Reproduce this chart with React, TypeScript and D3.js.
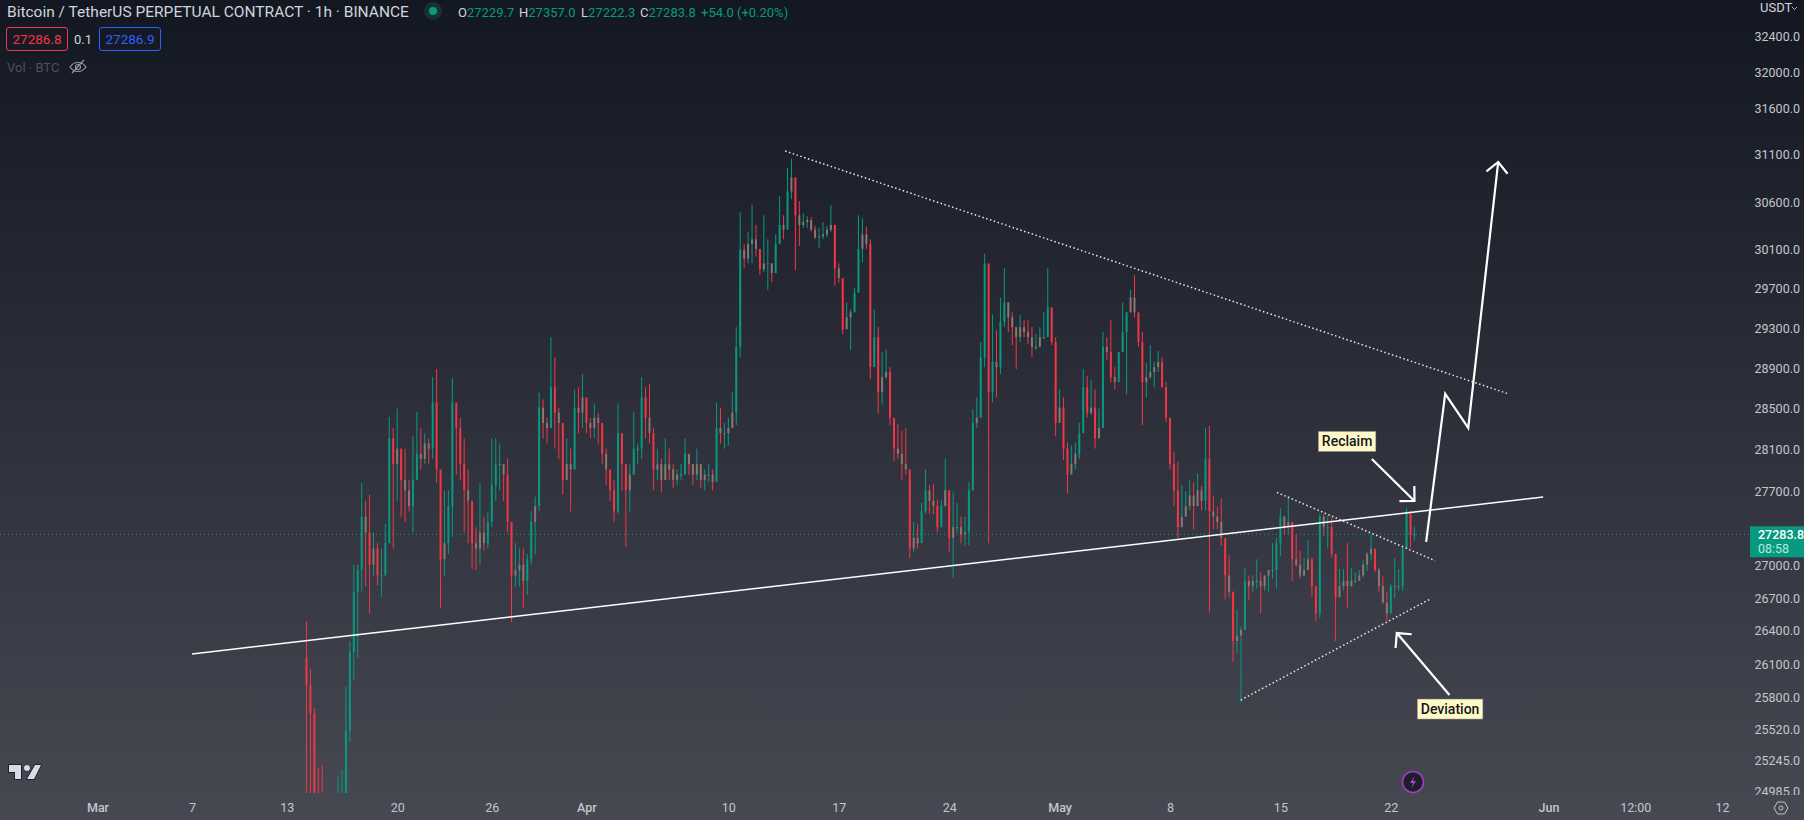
import React, { useEffect, useRef } from 'react';
import * as d3 from 'd3';

// 6h candles, open = previous close
const firstOpen = 26150;
const candleStart = Date.UTC(2023, 2, 14, 6);
const stepMs = 6 * 3600 * 1000;

const closes = [
  25900, 25650, 24900, 24800, 24700, 24600, 24500, 24600, 24800, 24900, 25500, 26200, 26750, 26950, 27450, 27300,
  27000, 27150, 26900, 26900, 27200, 28200, 27950, 28100, 27800, 27700, 27550, 27800, 28050, 28000, 28150, 28100,
  28550, 27900, 27050, 27200, 27550, 28550, 28300, 27950, 27700, 27600, 27200, 27150, 27300, 27200, 27400, 27750,
  27950, 27950, 27850, 27400, 26900, 26950, 27000, 26850, 27050, 27400, 27550, 28500, 28350, 28300, 28700, 28450,
  28350, 27800, 27950, 27900, 28500, 28450, 28600, 28350, 28300, 28400, 28350, 28050, 27900, 27700, 27500, 28250,
  27950, 27700, 27850, 28100, 28100, 28600, 28400, 28250, 27900, 27950, 27800, 27950, 27900, 27800, 27850, 27850,
  28050, 27950, 27850, 27950, 27800, 27850, 27850, 27780, 28300, 28250, 28250, 28300, 28450, 29100, 30090, 30000,
  30150, 30200, 30100, 29890, 29950, 29950, 29850, 30150, 30350, 30300, 30700, 30850, 30450, 30350, 30380, 30400,
  30300, 30220, 30230, 30250, 30300, 30350, 29900, 29800, 29280, 29400, 29450, 29650, 30100, 30250, 30150, 28900,
  29200, 28650, 28800, 28850, 28400, 28100, 28050, 27950, 27900, 27150, 27250, 27200, 27500, 27700, 27600, 27550,
  27350, 27550, 27700, 27250, 27350, 27350, 27280, 27300, 27700, 28350, 28400, 29000, 29950, 28650, 28950, 28900,
  29350, 29550, 29400, 29300, 29200, 29300, 29250, 29200, 29100, 29100, 29200, 29200, 29500, 29150, 28350, 28500,
  28100, 27850, 27950, 28050, 28250, 28700, 28450, 28500, 28200, 28300, 29100, 29050, 28800, 28750, 29050, 29250,
  29450, 29600, 29450, 29150, 28750, 28800, 28850, 28900, 28950, 28700, 28400, 27950, 27700, 27350, 27450, 27550,
  27650, 27550, 27700, 27600, 28000, 27500, 27450, 27400, 27250, 26900, 26750, 26300, 26350, 26400, 26850, 26800,
  26850, 26850, 26800, 26900, 26950, 26950, 27200, 27450, 27350, 27400, 27050, 27000, 26900, 26950, 27050, 26800,
  26550, 27450, 27350, 27350, 27100, 26700, 26800, 26850, 26800, 26850, 26850, 26900, 27000, 27100, 27150, 26950,
  26800, 26650, 26550, 26800, 26800, 26800, 27150, 27500, 27280, 27283.8,
];
const highs = [
  26480, 26050, 25700, 25180, 25200, 24900, 24800, 24950, 25100, 25160, 25890, 26300, 27000, 27000, 27770, 27600,
  27660, 27300, 27200, 27150, 27380, 28410, 28300, 28490, 28000, 28100, 27800, 28220, 28460, 28300, 28250, 28200,
  28800, 28880, 27480, 27700, 27700, 28790, 28500, 28400, 28200, 27900, 27500, 27350, 27770, 27450, 27500, 28200,
  28200, 28150, 27950, 28000, 27400, 27200, 27150, 27150, 27100, 27500, 27640, 28650, 28580, 28400, 29200, 29000,
  28500, 28300, 28200, 28100, 28680, 28700, 28830, 28500, 28400, 28540, 28450, 28300, 28100, 27850, 27800, 28540,
  28200, 27950, 27950, 28460, 28150, 28800, 28700, 28730, 28300, 28100, 28000, 28200, 28100, 27950, 27900, 27950,
  28200, 28000, 27950, 28100, 27950, 27900, 27950, 27900, 28550, 28500, 28350, 28400, 28650, 29300, 30480, 30150,
  30280, 30560, 30350, 30050, 30450, 30200, 29950, 30250, 30650, 30450, 30950, 31050, 30850, 30600, 30470, 30440,
  30430, 30340, 30320, 30380, 30340, 30560, 30330, 29950, 29780, 29550, 29480, 29700, 30450, 30420, 30330, 30200,
  29480, 29300, 29050, 29080, 28900, 28370, 28340, 28270, 28300, 27800, 27400, 27380, 27580, 27900, 27750, 27760,
  27610, 27610, 28000, 27580, 27680, 27580, 27450, 27450, 27780, 28480, 28600, 29150, 30050, 29450, 29430, 29270,
  29600, 29900, 29550, 29450, 29300, 29420, 29370, 29370, 29300, 29230, 29300, 29450, 29900, 29460, 29200, 28680,
  28600, 28160, 28130, 28160, 28350, 28880, 28810, 28770, 28680, 28490, 29250, 29200, 29370, 28900, 29050, 29550,
  29450, 29680, 29830, 29400, 29250, 28940, 29120, 28950, 29060, 29000, 28750, 28280, 28070, 27970, 27750, 27690,
  27800, 27780, 27860, 27740, 28300, 28320, 27650, 27540, 27620, 27200, 27090, 26670, 26580, 26430, 26970, 26900,
  26900, 27050, 26930, 26900, 26950, 27200, 27250, 27530, 27460, 27650, 27330, 27280, 27130, 27070, 27230, 27070,
  26800, 27480, 27480, 27460, 27440, 27070, 26960, 26960, 27200, 26970, 26930, 26950, 27040, 27120, 27280, 27110,
  26970, 26890, 26750, 26820, 27060, 26960, 27180, 27530, 27400, 27357,
];
const lows = [
  24500, 24700, 24500, 24350, 24300, 24300, 24200, 24300, 24400, 24500, 24600, 25400, 25950, 26150, 26750, 26800,
  26550, 26900, 26810, 26700, 26900, 27740, 27150, 27600, 27450, 27400, 27500, 27300, 27800, 27900, 27950, 27950,
  28000, 27770, 26600, 26900, 27100, 27260, 27850, 27800, 27300, 27200, 26960, 26950, 27000, 27130, 27150, 27350,
  27600, 27700, 27600, 27300, 26470, 26800, 26800, 26600, 26720, 27000, 27100, 27500, 28200, 28150, 28350, 28100,
  28000, 27660, 27800, 27500, 27900, 28250, 28300, 28250, 28200, 28200, 28150, 27950, 27750, 27600, 27400, 27480,
  27700, 27170, 27500, 27850, 27950, 28000, 28200, 28150, 27700, 27800, 27680, 27800, 27800, 27720, 27750, 27800,
  27850, 27850, 27750, 27800, 27720, 27700, 27780, 27700, 27780, 28150, 28100, 28130, 28330, 28330, 29000, 29900,
  29950, 29950, 30020, 29830, 29860, 29680, 29760, 30000, 30200, 30200, 30550, 30620, 29880, 30130, 30320, 30320,
  30280, 30200, 30110, 30200, 30220, 30280, 29720, 29750, 29230, 29280, 29070, 29480, 29750, 29960, 30100, 28780,
  29050, 28440, 28530, 28780, 28330, 27980, 28000, 27800, 27850, 27060, 27120, 27150, 27230, 27480, 27480, 27470,
  27300, 27400, 27550, 27120, 26880, 27300, 27200, 27180, 27180, 27750, 28300, 28520, 28900, 27200, 28550, 28600,
  28830, 29300, 29250, 29120, 28880, 29150, 29200, 29130, 29000, 29070, 29130, 29180, 29450, 29120, 28220, 28400,
  27990, 27670, 27900, 27900, 28000, 28450, 28400, 28430, 28100, 28220, 28900, 28970, 28750, 28680, 28800, 29100,
  28630, 29450, 29400, 29100, 28330, 28600, 28780, 28700, 28850, 28700, 28360, 27900, 27550, 27250, 27450, 27500,
  27510, 27330, 27590, 27510, 27510, 26560, 27330, 27330, 27180, 26680, 26700, 26110, 26190, 25750, 26670, 26670,
  26740, 26780, 26550, 26760, 26750, 26870, 26780, 27080, 27280, 27280, 26850, 26980, 26870, 26890, 26950, 26700,
  26480, 26510, 27270, 27150, 27070, 26300, 26770, 26760, 26600, 26800, 26830, 26870, 26880, 26940, 27040, 26930,
  26750, 26640, 26480, 26580, 26690, 26760, 26760, 27150, 27160, 27222,
];

const priceTicks = [32400, 32000, 31600, 31100, 30600, 30100, 29700, 29300, 28900, 28500, 28100, 27700, 27000, 26700, 26400, 26100, 25800, 25520, 25245, 24985];
const lastPrice = 27283.8;

const timeLabels = ['Mar', '7', '13', '20', '26', 'Apr', '10', '17', '24', 'May', '8', '15', '22', 'Jun', '12:00', '12'];
const timeDays = [0, 6, 12, 19, 25, 31, 40, 47, 54, 61, 68, 75, 82, 92, 97.5, 103];
const boldLabels = ['Mar', 'Apr', 'May', 'Jun'];

// drawings: [days since Mar 1, price]
const mainLine = [[5.99, 26182], [91.66, 27636]];
const upperTrend = [[43.6, 31131], [89.44, 28636]];
const wedgeTop = [[74.78, 27680], [84.81, 27037]];
const wedgeBottom = [[72.49, 25771], [84.5, 26683]];
const projection = [[84.24, 27212], [85.45, 28635], [86.91, 28301], [88.81, 31014]];
const reclaimArrow = [[80.8, 28001], [83.5, 27599]];
const deviationArrow = [[85.72, 25816], [82.38, 26372]];
const notes = [
  { text: 'Reclaim', at: [79.23, 28170] },
  { text: 'Deviation', at: [85.76, 25691] },
];

const t0 = Date.UTC(2023, 2, 1);
const dayToDate = (d: number) => new Date(t0 + d * 864e5);

const width = 1804;
const height = 820;
const uiFont = 'Roboto, sans-serif';

export default function App() {
  const svgRef = useRef<SVGSVGElement>(null);

  useEffect(() => {
    if (!svgRef.current) return;
    const svg = d3.select(svgRef.current);
    svg.selectAll('*').remove();

    const x = d3.scaleUtc().domain([dayToDate(0), dayToDate(103)]).range([97.5, 1722]);
    const y = d3.scaleLog().domain([24985, 32400]).range([790, 35]);
    const pt = (p: number[]): [number, number] => [x(dayToDate(p[0])), y(p[1])];

    const defs = svg.append('defs');
    const grad = defs.append('linearGradient').attr('id', 'bg').attr('x1', 0).attr('x2', 0).attr('y1', 0).attr('y2', 1);
    grad.append('stop').attr('offset', '0%').attr('stop-color', '#131722');
    grad.append('stop').attr('offset', '100%').attr('stop-color', '#464852');
    defs.append('clipPath').attr('id', 'pane').append('rect').attr('width', 1750).attr('height', 793);
    defs.append('clipPath').attr('id', 'scale').append('rect').attr('width', width).attr('height', 795);

    svg.append('rect').attr('width', width).attr('height', height).attr('fill', 'url(#bg)');

    const teal = '#089981';
    const red = '#f23645';
    const mix = '#8a7871';

    const lastY = y(lastPrice);
    svg.append('line').attr('x1', 0).attr('x2', 1750).attr('y1', lastY).attr('y2', lastY)
      .attr('stroke', teal).attr('stroke-dasharray', '1,3');

    // candles
    const candles = closes.map((c, i) => ({
      t: new Date(candleStart + i * stepMs),
      o: i === 0 ? firstOpen : closes[i - 1],
      h: highs[i],
      l: lows[i],
      c,
    }));
    const bw = (x(new Date(candleStart + stepMs)) - x(new Date(candleStart))) * 0.5;
    const pane = svg.append('g').attr('clip-path', 'url(#pane)');
    const g = pane.selectAll('g').data(candles).join('g');
    g.append('line')
      .attr('x1', d => x(d.t)).attr('x2', d => x(d.t))
      .attr('y1', d => y(d.h)).attr('y2', d => y(d.l))
      .attr('stroke', d => (d.c >= d.o ? teal : red));
    g.append('rect')
      .attr('x', d => x(d.t) - bw / 2).attr('width', bw)
      .attr('y', d => y(Math.max(d.o, d.c)))
      .attr('height', d => Math.max(1, Math.abs(y(d.o) - y(d.c))))
      .attr('fill', d => (Math.abs(d.c - d.o) < 160 ? mix : d.c >= d.o ? teal : red));

    // trend lines
    const line = d3.line<number[]>().x(p => pt(p)[0]).y(p => pt(p)[1]);
    const draw = svg.append('g').attr('fill', 'none').attr('stroke', '#ffffff');
    draw.append('path').attr('d', line(mainLine)).attr('stroke-width', 1.5);
    [upperTrend, wedgeTop, wedgeBottom].forEach(t => {
      draw.append('path').attr('d', line(t)).attr('stroke-width', 1.5).attr('stroke-dasharray', '1.5,2.5').attr('stroke', '#e8e8ee');
    });

    const withHead = (pts: number[][], size: number) => {
      draw.append('path').attr('d', line(pts)).attr('stroke-width', 2.2).attr('stroke-linejoin', 'miter');
      const [ax, ay] = pt(pts[pts.length - 2]);
      const [bx, by] = pt(pts[pts.length - 1]);
      const ang = Math.atan2(by - ay, bx - ax);
      const barb = (da: number) => [bx - size * Math.cos(ang + da), by - size * Math.sin(ang + da)];
      const b1 = barb(Math.PI / 4);
      const b2 = barb(-Math.PI / 4);
      draw.append('path').attr('d', `M${b1[0]},${b1[1]}L${bx},${by}L${b2[0]},${b2[1]}`).attr('stroke-width', 2.2);
    };
    withHead(projection, 15);
    withHead(reclaimArrow, 15);
    withHead(deviationArrow, 15);

    // text notes
    notes.forEach(n => {
      const [nx, ny] = pt(n.at);
      const label = svg.append('g');
      const txt = label.append('text').attr('x', nx).attr('y', ny).attr('dy', '0.35em').attr('text-anchor', 'middle')
        .attr('fill', '#131722').attr('font-family', uiFont).attr('font-size', 14).attr('font-weight', 500)
        .text(n.text);
      const box = (txt.node() as SVGTextElement).getBBox();
      label.insert('rect', 'text').attr('x', box.x - 3.5).attr('y', ny - 10).attr('width', box.width + 7).attr('height', 20)
        .attr('fill', '#fff9c8').attr('stroke', '#8d8c78').attr('stroke-width', 0.5);
    });

    // price scale
    const axisY = svg.append('g').attr('clip-path', 'url(#scale)').append('g').attr('transform', 'translate(1800,1)')
      .call(d3.axisRight(y).tickValues(priceTicks).tickFormat(d => (+d).toFixed(1)).tickSize(0).tickPadding(0) as any);
    axisY.select('.domain').remove();
    axisY.selectAll('text').attr('text-anchor', 'end').attr('fill', '#c4c6ce').attr('font-family', uiFont).attr('font-size', 12.5);

    svg.append('text').attr('x', 1760).attr('y', 12).attr('fill', '#d1d4dc').attr('font-family', uiFont).attr('font-size', 13).text('USDT');
    svg.append('path').attr('d', 'M1792,7l2.5,2.5l2.5,-2.5').attr('fill', 'none').attr('stroke', '#b2b5be');

    svg.append('rect').attr('x', 1750).attr('y', lastY - 8).attr('width', 54).attr('height', 31).attr('fill', teal);
    svg.append('text').attr('x', 1758).attr('y', lastY + 5).attr('fill', '#ffffff').attr('font-family', uiFont).attr('font-size', 12.5).attr('font-weight', 500).text(lastPrice.toFixed(1));
    svg.append('text').attr('x', 1758).attr('y', lastY + 19).attr('fill', '#b5ecdf').attr('font-family', uiFont).attr('font-size', 12.5).text('08:58');

    // time scale
    const axisX = svg.append('g').attr('transform', 'translate(0,803)')
      .call(d3.axisBottom(x).tickValues(timeDays.map(dayToDate)).tickFormat((_, i) => timeLabels[i]).tickSize(0).tickPadding(0) as any);
    axisX.select('.domain').remove();
    axisX.selectAll('text').attr('fill', '#c4c6ce').attr('font-family', uiFont).attr('font-size', 12.5)
      .attr('font-weight', function () { return boldLabels.includes(d3.select(this).text()) ? 500 : 400; });

    // settings hexagon
    const hex = svg.append('g').attr('transform', 'translate(1781,808)').attr('fill', 'none').attr('stroke', '#c4c6ce');
    hex.append('path').attr('d', 'M-7,0L-3.5,-6L3.5,-6L7,0L3.5,6L-3.5,6Z');
    hex.append('circle').attr('r', 2);

    // header
    const head = svg.append('g').attr('font-family', uiFont);
    head.append('text').attr('x', 7).attr('y', 17).attr('fill', '#d1d4dc').attr('font-size', 15.5).text('Bitcoin / TetherUS PERPETUAL CONTRACT · 1h · BINANCE');
    head.append('circle').attr('cx', 433).attr('cy', 11).attr('r', 9).attr('fill', '#17332f');
    head.append('circle').attr('cx', 433).attr('cy', 11).attr('r', 4).attr('fill', teal);

    const ohlc = [['O', '27229.7'], ['H', '27357.0'], ['L', '27222.3'], ['C', '27283.8']];
    const ohlcX = [458, 519, 581, 640];
    ohlc.forEach(([k, v], i) => {
      const t = head.append('text').attr('x', ohlcX[i]).attr('y', 17).attr('font-size', 13);
      t.append('tspan').attr('fill', '#d1d4dc').text(k);
      t.append('tspan').attr('fill', teal).text(v);
    });
    head.append('text').attr('x', 701).attr('y', 17).attr('font-size', 13).attr('fill', teal).text('+54.0 (+0.20%)');

    head.append('rect').attr('x', 6.5).attr('y', 27.5).attr('width', 61).attr('height', 23).attr('rx', 2.5).attr('fill', 'none').attr('stroke', red);
    head.append('text').attr('x', 37).attr('y', 44).attr('text-anchor', 'middle').attr('fill', red).attr('font-size', 13.5).text('27286.8');
    head.append('text').attr('x', 83).attr('y', 44).attr('text-anchor', 'middle').attr('fill', '#d1d4dc').attr('font-size', 13).text('0.1');
    head.append('rect').attr('x', 99.5).attr('y', 27.5).attr('width', 61).attr('height', 23).attr('rx', 2.5).attr('fill', 'none').attr('stroke', '#2962ff');
    head.append('text').attr('x', 130).attr('y', 44).attr('text-anchor', 'middle').attr('fill', '#2962ff').attr('font-size', 13.5).text('27286.9');
    head.append('text').attr('x', 7).attr('y', 72).attr('fill', '#4d505a').attr('font-size', 13).text('Vol · BTC');

    // crossed eye
    const eye = head.append('g').attr('transform', 'translate(78,67)').attr('fill', 'none').attr('stroke', '#9598a1').attr('stroke-width', 1.2);
    eye.append('path').attr('d', 'M-8,0C-4,-6 4,-6 8,0C4,6 -4,6 -8,0Z');
    eye.append('circle').attr('r', 2.5);
    eye.append('path').attr('d', 'M-6,6L6,-7');

    // logo
    svg.append('path')
      .attr('d', 'M9,765H21V779H15V772H9Z M35,765H41L34,779H27Z')
      .attr('fill', '#d8dae6').attr('stroke', '#131722').attr('stroke-width', 1.5).attr('paint-order', 'stroke');
    svg.append('circle').attr('cx', 27).attr('cy', 768).attr('r', 3).attr('fill', '#d8dae6').attr('stroke', '#131722').attr('paint-order', 'stroke');

    // lightning badge
    const bolt = svg.append('g').attr('transform', 'translate(1413,782)');
    bolt.append('circle').attr('r', 10.5).attr('fill', '#1e1e2a').attr('stroke', '#9c3fc0').attr('stroke-width', 1.6);
    bolt.append('path').attr('d', 'M1.5,-6L-3,1H0L-1.5,6L3,-1H0Z').attr('fill', '#a04cc8');
  }, []);

  return <svg ref={svgRef} width={width} height={height} style={{ position: 'absolute', left: 0, top: 0, display: 'block' }} />;
}
